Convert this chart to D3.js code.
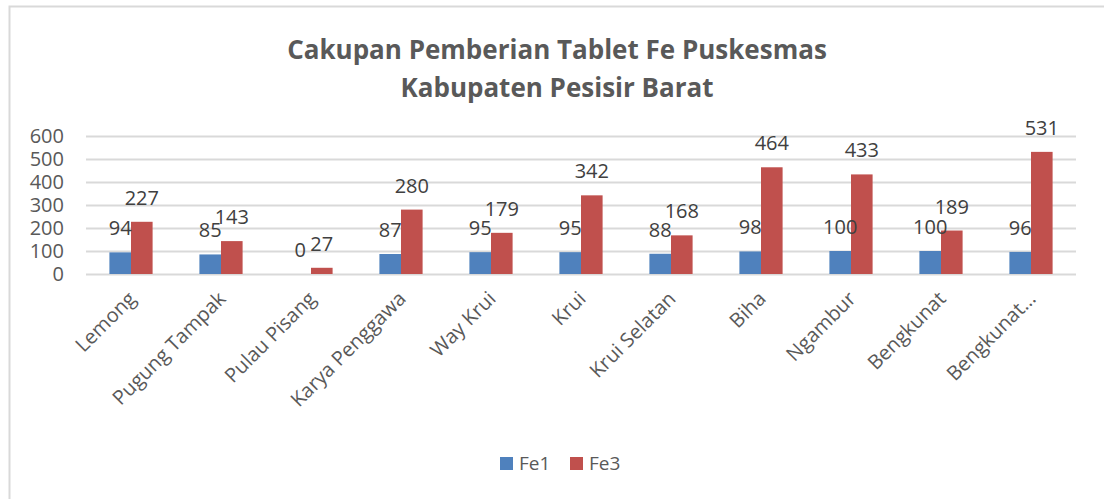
<!DOCTYPE html>
<html>
<head>
<meta charset="utf-8">
<script src="https://cdn.jsdelivr.net/npm/d3@7"></script>
<style>
  body { margin: 0; background: #fff; }
  text { font-family: "Open Sans", sans-serif; fill: #595959; }
</style>
</head>
<body>
<div id="chart"></div>
<script>
const categories = ['Lemong', 'Pugung Tampak', 'Pulau Pisang', 'Karya Penggawa', 'Way Krui', 'Krui', 'Krui Selatan', 'Biha', 'Ngambur', 'Bengkunat', 'Bengkunat…']
const fe1 = [94, 85, 0, 87, 95, 95, 88, 98, 100, 100, 96]
const fe3 = [227, 143, 27, 280, 179, 342, 168, 464, 433, 189, 531]
const yTicks = [0, 100, 200, 300, 400, 500, 600]
const seriesNames = ['Fe1', 'Fe3']
const colors = ['#4f81bd', '#c0504d']
const titleLines = ['Cakupan Pemberian Tablet Fe Puskesmas', 'Kabupaten Pesisir Barat']

function draw() {
    const dimensions = {
        width: 1104,
        height: 499,
        margin: { top: 136, bottom: 225, left: 86, right: 28 }
    }
    const containerWidth = dimensions.width - dimensions.margin.left - dimensions.margin.right
    const containerHeight = dimensions.height - dimensions.margin.top - dimensions.margin.bottom

    const svg = d3.select('#chart')
        .append('svg')
        .attr('width', dimensions.width)
        .attr('height', dimensions.height)

    // outer chart border (runs off the right and bottom edges)
    svg.append('rect')
        .attr('x', 9.5).attr('y', 6.5)
        .attr('width', 1110).attr('height', 510)
        .attr('fill', 'none')
        .attr('stroke', '#d9d9d9')
        .attr('stroke-width', 2)

    svg.append('g').selectAll('text')
        .data(titleLines)
        .join('text')
        .attr('x', 557)
        .attr('y', (d, i) => 59 + i * 38)
        .attr('text-anchor', 'middle')
        .style('font-size', '26px')
        .style('font-weight', 'bold')
        .text(d => d)

    const container = svg.append('g')
        .attr('transform', `translate(${dimensions.margin.left}, ${dimensions.margin.top})`)

    const xScale = d3.scaleBand()
        .domain(categories)
        .range([0, containerWidth])
        .paddingInner(0.52)
        .paddingOuter(0.26)

    const xSub = d3.scaleBand()
        .domain(seriesNames)
        .range([0, xScale.bandwidth()])

    const yScale = d3.scaleLinear()
        .domain([0, 600])
        .range([containerHeight, 0])

    const yAxis = d3.axisLeft(yScale)
        .tickValues(yTicks)
        .tickSize(-containerWidth)
        .tickPadding(22)

    const yAxisGroup = container.append('g').call(yAxis)
    yAxisGroup.select('.domain').remove()
    yAxisGroup.selectAll('line').attr('stroke', '#d9d9d9').attr('stroke-width', 2)
    yAxisGroup.selectAll('text')
        .attr('fill', '#595959')
        .style('font-size', '20px')
        .style('font-family', '"Open Sans", sans-serif')

    const rows = categories.map((c, i) => ({ c, vals: [fe1[i], fe3[i]] }))

    const groups = container.selectAll('.grp')
        .data(rows)
        .join('g')
        .attr('transform', d => `translate(${xScale(d.c)}, 0)`)

    groups.selectAll('rect')
        .data(d => d.vals.map((v, k) => ({ s: seriesNames[k], v, k })))
        .join('rect')
        .attr('x', d => xSub(d.s))
        .attr('y', d => yScale(d.v))
        .attr('width', xSub.bandwidth())
        .attr('height', d => containerHeight - yScale(d.v))
        .attr('fill', d => colors[d.k])

    groups.selectAll('.lbl')
        .data(d => d.vals.map((v, k) => ({ s: seriesNames[k], v, k })))
        .join('text')
        .attr('class', 'lbl')
        .attr('x', d => xSub(d.s) + xSub.bandwidth() / 2)
        .attr('y', d => yScale(d.v) - 17)
        .attr('text-anchor', 'middle')
        .style('font-size', '20px')
        .style('fill', '#404040')
        .text(d => d.v)

    // rotated category labels
    container.append('g').selectAll('text')
        .data(categories)
        .join('text')
        .attr('transform', d => `translate(${xScale(d) + xScale.bandwidth() / 2 + 6}, ${containerHeight + 26}) rotate(-45)`)
        .attr('text-anchor', 'end')
        .style('font-size', '20px')
        .text(d => d)

    // legend
    const legend = svg.append('g').attr('transform', 'translate(500, 457)')
    const item = legend.selectAll('g')
        .data(seriesNames)
        .join('g')
        .attr('transform', (d, i) => `translate(${i * 70}, 0)`)
    item.append('rect')
        .attr('width', 13).attr('height', 13)
        .attr('fill', (d, i) => colors[i])
    item.append('text')
        .attr('x', 19).attr('y', 13)
        .style('font-size', '19px')
        .text(d => d)
}

draw()
</script>
</body>
</html>
